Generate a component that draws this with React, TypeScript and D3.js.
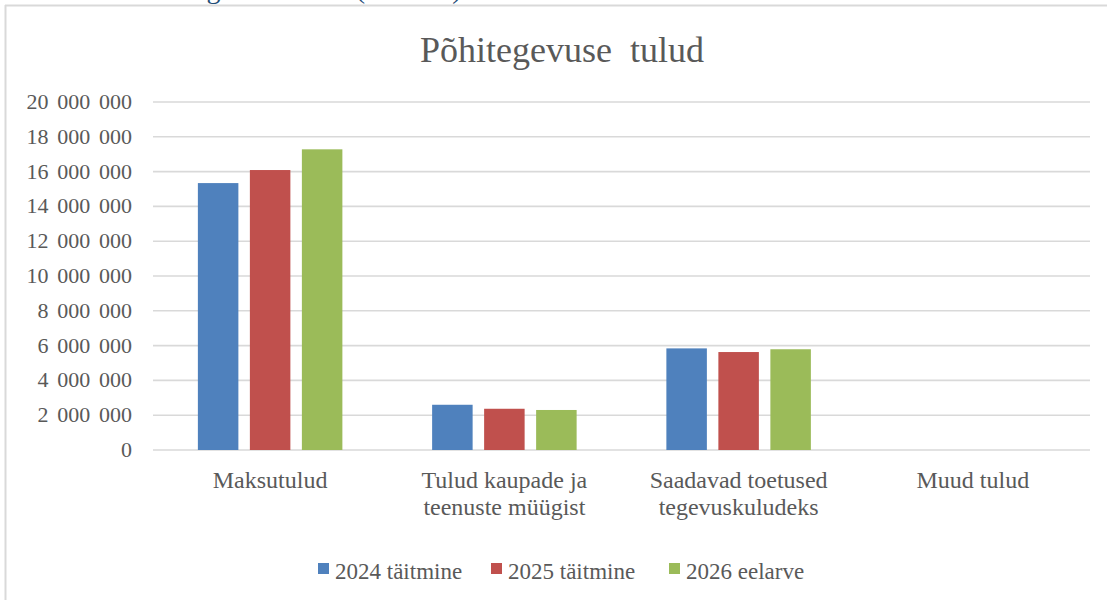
import React from "react";
import * as d3 from "d3";

const categories: string[][] = [
  ["Maksutulud"],
  ["Tulud kaupade ja", "teenuste müügist"],
  ["Saadavad toetused", "tegevuskuludeks"],
  ["Muud tulud"],
];
const seriesNames = ["2024 täitmine", "2025 täitmine", "2026 eelarve"];
const seriesColors = ["#4F81BD", "#C0504D", "#9BBB59"];
const values2024 = [15340000, 2600000, 5840000, 0];
const values2025 = [16090000, 2370000, 5630000, 0];
const values2026 = [17280000, 2300000, 5790000, 0];
const yTicks = [0, 2000000, 4000000, 6000000, 8000000, 10000000, 12000000, 14000000, 16000000, 18000000, 20000000];
const title = "Põhitegevuse  tulud";

const W = 1107;
const H = 600;
const font = "'Liberation Serif', 'Times New Roman', serif";
const textColor = "#595959";

export default function App() {
  const series = [values2024, values2025, values2026];
  const left = 153, right = 1090, top = 102, bottom = 450;
  const y = d3.scaleLinear().domain([0, 20000000]).range([bottom, top]);
  const x0 = d3.scaleBand<number>().domain(categories.map((_, i) => i)).range([left, right]).paddingInner(0).paddingOuter(0);
  const bw = x0.bandwidth();
  const barW = 40.5;
  const gap = 11.5;
  const fmt = (v: number) => d3.format(",")(v).replace(/,/g, "\u2009\u2009");
  const legendX = [318, 491, 669];

  return (
    <svg width={W} height={H} style={{ position: "absolute", left: 0, top: 0, background: "#fff" }}>
      <rect x={0} y={0} width={W} height={H} fill="#fff" />
      <text x={135} y={-2} fontFamily={font} fontSize={28} fill="#1F4E79">
        Põhitegevuse tulud (eurodes)
      </text>
      <line x1={5} x2={W} y1={5.5} y2={5.5} stroke="#D9D9D9" strokeWidth={2} />
      <line x1={5.5} x2={5.5} y1={5} y2={H} stroke="#D9D9D9" strokeWidth={2} />
      <text x={562} y={62} textAnchor="middle" fontFamily={font} fontSize={36} fill={textColor} style={{ whiteSpace: "pre" }}>
        {title}
      </text>
      {yTicks.map((t) => (
        <g key={t}>
          <line x1={left} x2={right} y1={y(t)} y2={y(t)} stroke="#D9D9D9" strokeWidth={1.6} />
          <text x={132} y={y(t) + 7} textAnchor="end" fontFamily={font} fontSize={22} fill={textColor}>
            {fmt(t)}
          </text>
        </g>
      ))}
      {categories.map((c, i) => {
        const cx = (x0(i) as number) + bw / 2;
        const groupW = barW * 3 + gap * 2;
        return (
          <g key={i}>
            {series.map((s, j) => {
              const bx = cx - groupW / 2 + j * (barW + gap);
              const v = s[i];
              if (v <= 0) return null;
              return (
                <rect key={j} x={bx} y={y(v)} width={barW} height={y(0) - y(v)} fill={seriesColors[j]} />
              );
            })}
            {c.map((line, k) => (
              <text key={k} x={cx} y={488 + k * 27} textAnchor="middle" fontFamily={font} fontSize={24} fill={textColor}>
                {line}
              </text>
            ))}
          </g>
        );
      })}
      {seriesNames.map((n, j) => (
        <g key={n}>
          <rect x={legendX[j]} y={563} width={11} height={11} fill={seriesColors[j]} />
          <text x={legendX[j] + 17} y={579} fontFamily={font} fontSize={23} fill={textColor}>
            {n}
          </text>
        </g>
      ))}
    </svg>
  );
}
